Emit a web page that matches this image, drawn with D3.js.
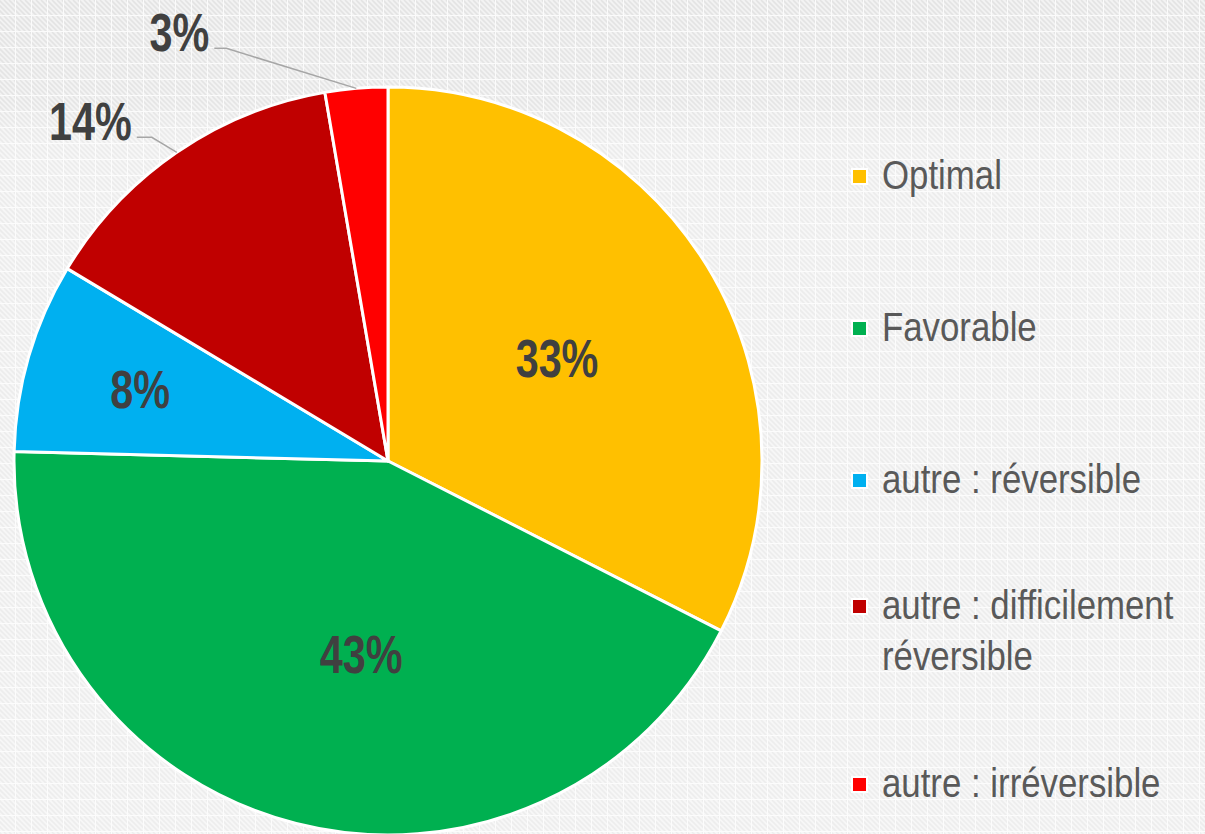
<!DOCTYPE html>
<html>
<head>
<meta charset="utf-8">
<script src="https://cdn.jsdelivr.net/npm/d3@7"></script>
<style>
  html, body { margin: 0; padding: 0; background: #f4f4f4; overflow: hidden; }
  svg { display: block; }
</style>
</head>
<body>
<svg id="chart"></svg>
<script>
const categories = ['Optimal', 'Favorable', 'autre : réversible', 'autre : difficilement réversible', 'autre : irréversible']
const values = [32.5, 42.9, 8.2, 13.7, 2.7]
const labels = ['33%', '43%', '8%', '14%', '3%']
const colors = ['#ffc000', '#00b050', '#00b0f0', '#c00000', '#ff0000']

const width = 1205
const height = 834
const cx = 388
const cy = 461
const radius = 374

const svg = d3.select('#chart')
  .attr('width', width)
  .attr('height', height)

// background texture
const defs = svg.append('defs')
const pat = defs.append('pattern')
  .attr('id', 'tex')
  .attr('width', 16)
  .attr('height', 16)
  .attr('patternUnits', 'userSpaceOnUse')
pat.append('rect').attr('width', 16).attr('height', 16).attr('fill', '#f3f3f3')
for (let k = -16; k <= 16; k += 5) {
  pat.append('line')
    .attr('x1', k).attr('y1', 0)
    .attr('x2', k + 16).attr('y2', 16)
    .attr('stroke', '#e3e3e3')
    .attr('stroke-width', 1.6)
}
pat.append('rect').attr('x', 15).attr('width', 1).attr('height', 16).attr('fill', '#fbfbfb')
pat.append('rect').attr('y', 15).attr('width', 16).attr('height', 1).attr('fill', '#fbfbfb')

const fade = defs.append('linearGradient')
  .attr('id', 'fade')
  .attr('x1', 0).attr('y1', 0).attr('x2', 0).attr('y2', 1)
fade.append('stop').attr('offset', 0).attr('stop-color', '#fff').attr('stop-opacity', 0)
fade.append('stop').attr('offset', 0.12).attr('stop-color', '#fff').attr('stop-opacity', 0.05)
fade.append('stop').attr('offset', 0.17).attr('stop-color', '#fff').attr('stop-opacity', 0.3)
fade.append('stop').attr('offset', 1).attr('stop-color', '#fff').attr('stop-opacity', 0.35)

svg.append('rect').attr('width', width).attr('height', height).attr('fill', 'url(#tex)')
svg.append('rect').attr('width', width).attr('height', height).attr('fill', 'url(#fade)')

// pie
const pie = d3.pie().sort(null).value(d => d)
const arcs = pie(values)
const arc = d3.arc().innerRadius(0).outerRadius(radius)

const g = svg.append('g').attr('transform', `translate(${cx},${cy})`)

g.selectAll('path')
  .data(arcs)
  .enter()
  .append('path')
  .attr('d', arc)
  .attr('fill', (d, i) => colors[i])
  .attr('stroke', '#fff')
  .attr('stroke-width', 3)
  .attr('stroke-linejoin', 'round')

// narrow-looking text: Arial metrics squeezed horizontally
const font = '"Liberation Sans", Arial, sans-serif'
const labelSquash = 0.78
const legendSquash = 0.87

// label placement: inside labels by radius fraction (+ angle nudge), outside ones with a leader line
const place = [
  { inside: 0.53, turn: 0 },
  { inside: 0.52, turn: -0.11 },
  { inside: 0.69, turn: 0 },
  { elbow: [-25, -15], tail: -15 },
  { elbow: [-130, -40], tail: -12 }
]

const midPoint = (d, r, turn = 0) => {
  const a = (d.startAngle + d.endAngle) / 2 + turn
  return [Math.sin(a) * r, -Math.cos(a) * r]
}

function addLabel(x, y, anchor, txt) {
  g.append('text')
    .attr('transform', `translate(${x},${y}) scale(${labelSquash},1)`)
    .attr('dy', '0.36em')
    .attr('text-anchor', anchor)
    .attr('fill', '#404040')
    .style('font-family', font)
    .style('font-weight', 'bold')
    .style('font-size', '53px')
    .text(txt)
}

arcs.forEach((d, i) => {
  const p = place[i]
  if (p.inside) {
    const [x, y] = midPoint(d, radius * p.inside, p.turn)
    addLabel(x, y, 'middle', labels[i])
  } else {
    const [x0, y0] = midPoint(d, radius)
    const x1 = x0 + p.elbow[0]
    const y1 = y0 + p.elbow[1]
    const x2 = x1 + p.tail
    g.append('polyline')
      .attr('points', `${x0},${y0} ${x1},${y1} ${x2},${y1}`)
      .attr('fill', 'none')
      .attr('stroke', '#a6a6a6')
      .attr('stroke-width', 1.5)
    addLabel(x2 - 5, y1 - 16, 'end', labels[i])
  }
})

// legend
const legendLines = [['Optimal'], ['Favorable'], ['autre : réversible'], ['autre : difficilement', 'réversible'], ['autre : irréversible']]
const legendY = d3.scalePoint().domain(d3.range(categories.length)).range([177, 785])

const leg = svg.append('g').selectAll('g')
  .data(categories)
  .enter()
  .append('g')
  .attr('transform', (d, i) => `translate(852, ${legendY(i) + (i === 3 ? -26 : 0)})`)

leg.append('rect')
  .attr('x', 0)
  .attr('y', -8)
  .attr('width', 15)
  .attr('height', 15)
  .attr('fill', (d, i) => colors[i])
  .attr('stroke', '#fff')
  .attr('stroke-width', 2)

leg.each(function (d, i) {
  const t = d3.select(this).append('text')
    .attr('transform', `translate(30,12) scale(${legendSquash},1)`)
    .attr('fill', '#595959')
    .style('font-family', font)
    .style('font-size', '40px')
  legendLines[i].forEach((line, j) => {
    t.append('tspan')
      .attr('x', 0)
      .attr('dy', j === 0 ? 0 : 51)
      .text(line)
  })
})
</script>
</body>
</html>
